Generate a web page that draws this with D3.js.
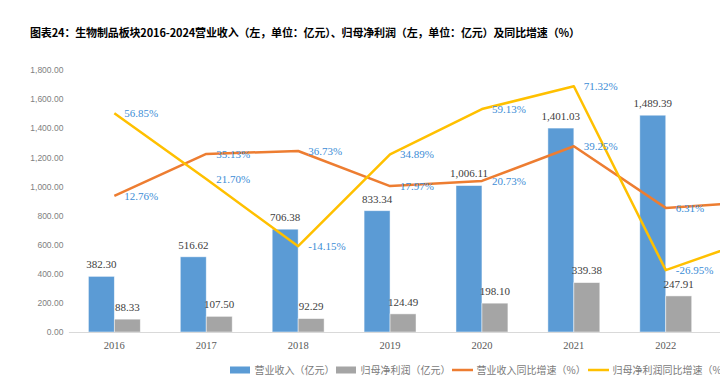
<!DOCTYPE html>
<html>
<head>
<meta charset="utf-8">
<script src="https://cdn.jsdelivr.net/npm/d3@7"></script>
<style>
  html, body { margin: 0; padding: 0; background: #fff; overflow: hidden; }
  svg { display: block; }
</style>
</head>
<body>
<svg id="chart"></svg>
<script>
// data (2023/2024 sit past the right edge of the crop, values estimated)
const categories = ["2016", "2017", "2018", "2019", "2020", "2021", "2022", "2023", "2024"];
const revenue = [382.30, 516.62, 706.38, 833.34, 1006.11, 1401.03, 1489.39, 1632.0, 1560.0];
const netProfit = [88.33, 107.50, 92.29, 124.49, 198.10, 339.38, 247.91, 224.0, 180.0];
const revenueGrowth = [12.76, 35.13, 36.73, 17.97, 20.73, 39.25, 6.31, 9.6, -4.4];
const profitGrowth = [56.85, 21.70, -14.15, 34.89, 59.13, 71.32, -26.95, -9.7, -19.6];
const leftTicks = [0, 200, 400, 600, 800, 1000, 1200, 1400, 1600, 1800];
const legendLabels = ["营业收入（亿元）", "归母净利润（亿元）", "营业收入同比增速（%）", "归母净利润同比增速（%）"];
const title = "图表24：生物制品板块2016-2024营业收入（左，单位：亿元）、归母净利润（左，单位：亿元）及同比增速（%）";

const width = 720;
const height = 377;
const margin = { top: 70, bottom: 45, left: 68.4 };
const plotRight = 895.5; // full chart is wider than the visible crop

const svg = d3.select("#chart").attr("width", width).attr("height", height);

const x = d3.scaleBand()
  .domain(categories)
  .range([margin.left, plotRight])
  .paddingInner(0.435)
  .paddingOuter(0.2175);

const inner = d3.scaleBand()
  .domain(["revenue", "profit"])
  .range([0, x.bandwidth()]);

const y = d3.scaleLinear()
  .domain([0, 1800])
  .range([height - margin.bottom, margin.top]);

const y2 = d3.scaleLinear()
  .domain([-60, 80])
  .range([height - margin.bottom, margin.top]);

const color = { revenue: "#5b9bd5", profit: "#a5a5a5", revGrowth: "#ed7d31", profGrowth: "#ffc000" };
const serif = "'Liberation Serif', 'Times New Roman', serif";
const sans = "'Noto Sans CJK SC', 'Liberation Sans', sans-serif";
const locale = d3.formatLocale({ decimal: ".", thousands: ",", grouping: [3], currency: ["", ""], minus: "-" });
const fmt = locale.format(",.2f");
const pct = locale.format(".2f");

// title
svg.append("text")
  .attr("x", 30)
  .attr("y", 37)
  .style("font-family", sans)
  .style("font-weight", "bold")
  .style("font-size", "11px")
  .attr("textLength", 550)
  .attr("fill", "#000")
  .text(title);

// left axis
const yAxis = svg.append("g")
  .attr("transform", `translate(${margin.left - 4},0)`)
  .call(d3.axisLeft(y).tickValues(leftTicks).tickFormat(fmt).tickSize(0));
yAxis.select(".domain").remove();
yAxis.selectAll("text")
  .attr("x", -1)
  .style("font-family", "'Liberation Sans', Arial, sans-serif")
  .style("font-size", "8.5px")
  .attr("fill", "#7f7f7f");

// bars
const rows = categories.map((c, i) => ({ c, revenue: revenue[i], profit: netProfit[i] }));

const groups = svg.append("g")
  .selectAll("g")
  .data(rows)
  .enter()
  .append("g")
  .attr("transform", (d) => `translate(${x(d.c)},0)`);

groups.selectAll("rect")
  .data((d) => [{ key: "revenue", v: d.revenue }, { key: "profit", v: d.profit }])
  .enter()
  .append("rect")
  .attr("x", (d) => inner(d.key))
  .attr("y", (d) => y(d.v))
  .attr("width", inner.bandwidth())
  .attr("height", (d) => y(0) - y(d.v))
  .attr("fill", (d) => color[d.key])
  .attr("stroke", "#fff")
  .attr("stroke-opacity", 0.6)
  .attr("stroke-width", 0.8);

groups.selectAll("text")
  .data((d) => [{ key: "revenue", v: d.revenue }, { key: "profit", v: d.profit }])
  .enter()
  .append("text")
  .attr("x", (d) => inner(d.key) + inner.bandwidth() / 2)
  .attr("y", (d) => y(d.v) - 12)
  .attr("dy", "0.35em")
  .attr("text-anchor", "middle")
  .style("font-family", serif)
  .style("font-size", "11px")
  .attr("fill", "#404040")
  .text((d) => fmt(d.v));

// x axis
const xAxis = svg.append("g")
  .attr("transform", `translate(0,${y(0)})`)
  .call(d3.axisBottom(x).tickSize(0).tickSizeOuter(0));
xAxis.select(".domain").attr("stroke", "#d9d9d9");
xAxis.selectAll("text")
  .attr("y", 13)
  .attr("dy", "0.35em")
  .style("font-family", serif)
  .style("font-size", "10.5px")
  .attr("fill", "#595959");

// growth lines
const cx = (i) => x(categories[i]) + x.bandwidth() / 2;

function drawLine(values, stroke) {
  const line = d3.line()
    .x((d, i) => cx(i))
    .y((d) => y2(d));
  svg.append("path")
    .datum(values)
    .attr("d", line)
    .attr("fill", "none")
    .attr("stroke", stroke)
    .attr("stroke-width", 2.5)
    .attr("stroke-linejoin", "round");
}
drawLine(revenueGrowth, color.revGrowth);
drawLine(profitGrowth, color.profGrowth);

function drawLabels(values) {
  svg.append("g")
    .selectAll("text")
    .data(values)
    .enter()
    .append("text")
    .attr("x", (d, i) => cx(i) + 10)
    .attr("y", (d) => y2(d))
    .attr("dy", "0.35em")
    .style("font-family", serif)
    .style("font-size", "11px")
    .attr("fill", "#3c8dd6")
    .text((d) => pct(d) + "%");
}
drawLabels(revenueGrowth);
drawLabels(profitGrowth);

// legend
const legendItems = [
  { label: legendLabels[0], x: 230, type: "rect", fill: color.revenue },
  { label: legendLabels[1], x: 336, type: "rect", fill: color.profit },
  { label: legendLabels[2], x: 452, type: "line", fill: color.revGrowth },
  { label: legendLabels[3], x: 588, type: "line", fill: color.profGrowth }
];
const legend = svg.append("g").attr("transform", "translate(0,370)");
legendItems.forEach((d) => {
  if (d.type === "rect") {
    legend.append("rect").attr("x", d.x).attr("y", -3.5).attr("width", 20).attr("height", 7).attr("fill", d.fill);
  } else {
    legend.append("line").attr("x1", d.x).attr("x2", d.x + 21).attr("y1", 0).attr("y2", 0)
      .attr("stroke", d.fill).attr("stroke-width", 2.5);
  }
  legend.append("text")
    .attr("x", d.x + 24.5)
    .attr("y", 0)
    .attr("dy", "0.35em")
    .style("font-family", sans)
    .style("font-size", "10px")
    .attr("fill", "#7a7a7a")
    .text(d.label);
});
</script>
</body>
</html>
